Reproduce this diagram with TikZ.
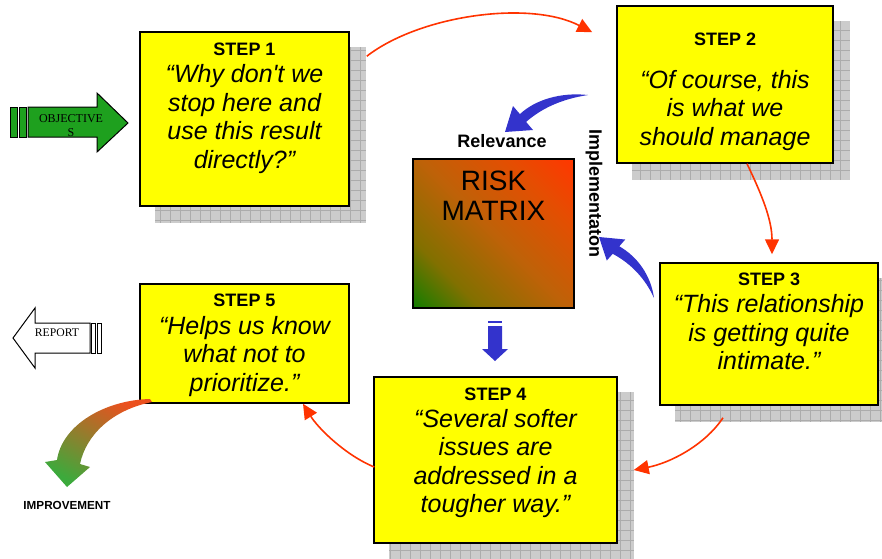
\documentclass[tikz,border=0pt]{standalone}
\usepackage{fontspec}
\setmainfont{Liberation Sans}
\newfontfamily\quotefont{Liberation Sans}
\newfontfamily\timesfont{Liberation Serif}
\usetikzlibrary{positioning,arrows.meta,backgrounds}
\definecolor{stepyellow}{RGB}{255,255,0}
\definecolor{flowred}{RGB}{255,51,0}
\definecolor{matrixblue}{RGB}{51,51,204}
\definecolor{objgreen}{RGB}{30,160,30}
\definecolor{imprgreen}{RGB}{60,170,60}
\definecolor{imprred}{RGB}{235,80,30}
\definecolor{riskred}{RGB}{255,55,0}
\definecolor{riskorange}{RGB}{228,78,2}
\definecolor{riskmid}{RGB}{190,98,8}
\definecolor{riskolive}{RGB}{130,112,0}
\definecolor{riskgreen}{RGB}{20,125,0}
\pgfdeclarehorizontalshading{riskshade}{100bp}{color(0bp)=(riskgreen); color(15bp)=(riskgreen);
  color(30bp)=(riskolive); color(50bp)=(riskmid); color(70bp)=(riskorange); color(85bp)=(riskred); color(100bp)=(riskred)}

\begin{document}
\begin{tikzpicture}[x=1pt,y=-1pt,
  stepbox/.style={draw=black, line width=1.5pt, fill=stepyellow, inner sep=0pt},
  steptitle/.style={font=\fontsize{18}{21}\selectfont\bfseries, inner sep=0pt},
  stepquote/.style={font=\quotefont\fontsize{25}{28.5}\selectfont\itshape, align=center, inner sep=0pt},
  shadowfill/.style={fill=gray!40},
  shadowgrid/.style={draw=gray!65, line width=0.4pt, step=10pt},
  flow/.style={draw=flowred, line width=1.6pt, -{Triangle[length=15pt,width=14pt]}},
  lbl/.style={font=\fontsize{18}{20}\selectfont\bfseries, inner sep=0pt},
  blockarrow/.style={fill=matrixblue}]

\useasboundingbox (0,0) rectangle (882,558);

% the five steps
\node[stepbox, minimum width=209pt, minimum height=174pt] (s1) at (244.5,119) {};
\node[steptitle, below=11pt of s1.north] (h1) {STEP 1};
\node[stepquote, below=33pt of s1.north] (q1) {“Why don't we\\stop here and\\use this result\\directly?”};

\node[stepbox, minimum width=216pt, minimum height=157pt] (s2) at (725,84.5) {};
\node[steptitle, below=27pt of s2.north] (h2) {STEP 2};
\node[stepquote, below=64.5pt of s2.north] (q2) {“Of course, this\\is what we\\should manage};

\node[stepbox, minimum width=218pt, minimum height=142pt] (s3) at (769,334) {};
\node[steptitle, below=10pt of s3.north] (h3) {STEP 3};
\node[stepquote, below=32pt of s3.north] (q3) {“This relationship\\is getting quite\\intimate.”};

\node[stepbox, minimum width=243pt, minimum height=166pt] (s4) at (495.5,460) {};
\node[steptitle, below=11pt of s4.north] (h4) {STEP 4};
\node[stepquote, below=32.5pt of s4.north] (q4) {“Several softer\\issues are\\addressed in a\\tougher way.”};

\node[stepbox, minimum width=209pt, minimum height=119pt] (s5) at (244.5,343.5) {};
\node[steptitle, below=10.5pt of s5.north] (h5) {STEP 5};
\node[stepquote, below=32.5pt of s5.north] (q5) {“Helps us know\\what not to\\prioritize.”};

\begin{scope}[on background layer]
\foreach \b in {s1,s2,s3,s4}{
  \fill[shadowfill] ([shift={(16,16)}]\b.north west) rectangle ([shift={(16,16)}]\b.south east);
  \draw[shadowgrid] ([shift={(16,16)}]\b.north west) grid ([shift={(16,16)}]\b.south east);
}
\end{scope}

% risk matrix
\node[draw=black, line width=1.2pt, minimum width=161pt, minimum height=149pt,
  shading=riskshade, shading angle=45] (risk) at (493.5,233.5) {};
\node[font=\fontsize{28}{30}\selectfont, align=center, inner sep=0pt, below=12.7pt of risk.north] (risktext) {RISK\\MATRIX};
\node[lbl, above=11pt of risk.north, xshift=8.5pt] (relevance) {Relevance};
\node[lbl, rotate=-90] (impl) at (594,193.5) {Implementaton};

% blue arrows
\fill[blockarrow] (588,95) .. controls (560,92) and (535,100) .. (519.9,114.1) -- (513,106) -- (505,132)
  -- (533,130) -- (526.1,121.9) .. controls (542,108) and (562,99) .. (588,95) -- cycle;
\fill[blockarrow] (654,298) .. controls (646,280) and (632,264) .. (612.7,253.8) -- (606.8,260.5) -- (599,237)
  -- (625.2,239.5) -- (619.3,246.3) .. controls (638,257) and (651,276) .. (654,298) -- cycle;
\fill[blockarrow] (488,321) rectangle (502,323);
\fill[blockarrow] (488,326) -- (502,326) -- (502,349) -- (508,349) -- (495,361) -- (482,349) -- (488,349) -- cycle;

% red flow
\draw[flow] ([shift={(17,25)}]s1.north east) .. controls (420,15) and (530,0) .. ([shift={(-24,27)}]s2.north west);
\draw[flow] ([xshift=22pt]s2.south) .. controls (762,195) and (772,220) .. ([shift={(3,-8)}]s3.north);
\draw[flow] ([shift={(-46,12)}]s3.south) .. controls (705,445) and (670,463) .. ([shift={(16,10)}]s4.east);
\draw[flow] ([shift={(1,7)}]s4.west) .. controls (345,455) and (318,428) .. ([xshift=58.5pt]s5.south);

% objectives in, report out
\draw[fill=objgreen, line width=1pt] (10,107) rectangle (17,137);
\draw[fill=objgreen, line width=1pt] (19,107) rectangle (26,137);
\draw[fill=objgreen, line width=1pt] (28,107) -- (97,107) -- (97,93) -- (128,123) -- (97,152) -- (97,137) -- (28,137) -- cycle;
\begin{scope}
\clip (28,107) rectangle (128,136.5);
\node[font=\timesfont\fontsize{12}{14}\selectfont, align=center, inner sep=0pt, anchor=north] (objective) at (71,114) {OBJECTIVE\\S};
\end{scope}

\draw[fill=white, line width=1pt] (13,338) -- (35,308) -- (35,323) -- (90,323) -- (90,353) -- (35,353) -- (35,368) -- cycle;
\draw[fill=white, line width=1pt] (91,323) rectangle (95,353);
\draw[fill=white, line width=1pt] (97,323) rectangle (101,353);
\node[font=\timesfont\fontsize{11.7}{13}\selectfont, inner sep=0pt] (report) at (57,333) {REPORT};

% improvement
\shade[top color=imprred, bottom color=imprgreen, shading angle=-30] (150,399) .. controls (105,400) and (62,425) .. (57,460)
  -- (45,462) -- (67,487) -- (90,467) -- (80,464) .. controls (86,435) and (112,410) .. (152,402) -- cycle;
\node[font=\fontsize{11.7}{13}\selectfont\bfseries, inner sep=0pt] (improvement) at (67,505) {IMPROVEMENT};
\end{tikzpicture}
\end{document}
